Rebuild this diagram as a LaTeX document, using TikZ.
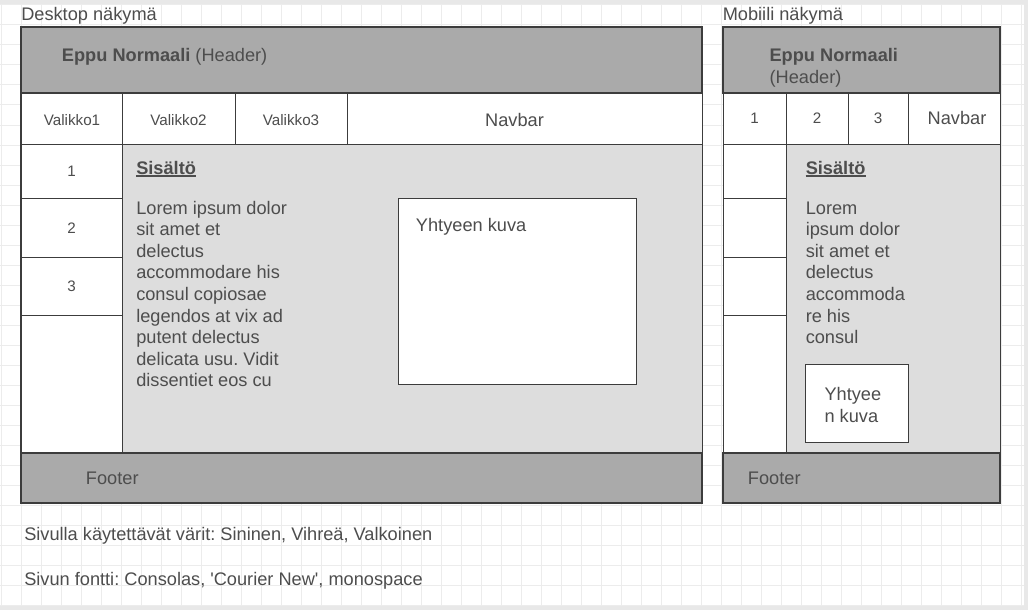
\documentclass[tikz,border=0pt]{standalone}
\usepackage{fontspec}
\setmainfont{Liberation Sans}
\definecolor{bgout}{RGB}{232,232,232}
\definecolor{gridc}{RGB}{236,236,236}
\definecolor{linec}{RGB}{60,60,60}
\definecolor{darkfill}{RGB}{170,170,170}
\definecolor{lightfill}{RGB}{221,221,221}
\definecolor{txtc}{RGB}{77,77,77}
\frenchspacing
\begin{document}
\begin{tikzpicture}[x=0.75pt,y=-0.75pt,
  big/.style={font=\fontsize{13.65}{16.2}\selectfont, text=txtc, inner sep=0pt},
  bigb/.style={font=\fontsize{13.65}{16.2}\selectfont\bfseries, text=txtc, inner sep=0pt},
  small/.style={font=\fontsize{11.4}{13.5}\selectfont, text=txtc, inner sep=0pt},
  thinbox/.style={draw=linec, line width=0.75pt},
  thickbox/.style={draw=linec, line width=1.5pt},
  uline/.style={draw=txtc, line width=1.1pt},
]
\useasboundingbox (0,0) rectangle (1028,610);
\fill[bgout] (0,0) rectangle (1028,610);
\fill[white] (0,5) rectangle (1024,605);
\foreach \i in {0,...,51} \draw[gridc, line width=0.75pt] (1.7+20*\i,5) -- (1.7+20*\i,605);
\foreach \j in {0,...,30} \draw[gridc, line width=0.75pt] (0,5+20*\j) -- (1024,5+20*\j);

% ---------- Desktop ----------
\filldraw[thinbox, fill=white] (21,27) rectangle (702,503);
\filldraw[thinbox, fill=white] (21,93) rectangle (122,144);
\filldraw[thinbox, fill=white] (122,93) rectangle (235,144);
\filldraw[thinbox, fill=white] (235,93) rectangle (347,144);
\filldraw[thinbox, fill=white] (347,93) rectangle (702,144);
\filldraw[thinbox, fill=white] (21,144) rectangle (122,198);
\filldraw[thinbox, fill=white] (21,198) rectangle (122,257);
\filldraw[thinbox, fill=white] (21,257) rectangle (122,315);
\filldraw[thinbox, fill=white] (21,315) rectangle (122,453);
\filldraw[thinbox, fill=lightfill] (122,144) rectangle (702,453);
\filldraw[thinbox, fill=white] (398,198) rectangle (636,384);
\filldraw[thickbox, fill=darkfill] (21,27) rectangle (702,93);
\filldraw[thickbox, fill=darkfill] (21,453) rectangle (702,503);
\draw[thickbox] (21,27) -- (21,503);

\node[big, anchor=base west] (dlabel) at (21,21) {Desktop näkymä};
\node[big, anchor=base west] (dhead) at (61.7,61.7) {\textbf{Eppu Normaali} (Header)};
\node[small, anchor=base] (v1) at (72,125.5) {Valikko1};
\node[small, anchor=base] (v2) at (178.5,125.5) {Valikko2};
\node[small, anchor=base] (v3) at (291,125.5) {Valikko3};
\node[big, anchor=base] (dnav) at (514.5,126.5) {Navbar};
\node[small] (dc1) at (71.5,171.5) {1};
\node[small] (dc2) at (71.5,228) {2};
\node[small] (dc3) at (71.5,286.5) {3};
\node[bigb, anchor=base west] (dsis) at (136,174.5) {Sisältö};
\draw[uline] ([yshift=-1.1pt]dsis.base west) -- ([yshift=-1.1pt]dsis.base east);
\foreach \t [count=\i from 0] in {Lorem ipsum dolor, sit amet et, delectus, accommodare his, consul copiosae, legendos at vix ad, putent delectus, delicata usu. Vidit, dissentiet eos cu}
  \node[big, anchor=base west] (dl\i) at (136,214+21.6*\i) {\t};
\node[big, anchor=base west] (dimg) at (415.7,231) {Yhtyeen kuva};
\node[big, anchor=base west] (dfoot) at (85.7,484.3) {Footer};

% ---------- Mobile ----------
\filldraw[thinbox, fill=white] (723,27) rectangle (1000,503);
\filldraw[thinbox, fill=white] (723,93) rectangle (786,144);
\filldraw[thinbox, fill=white] (786,93) rectangle (848,144);
\filldraw[thinbox, fill=white] (848,93) rectangle (908,144);
\filldraw[thinbox, fill=white] (908,93) rectangle (1000,144);
\filldraw[thinbox, fill=white] (723,144) rectangle (786,198);
\filldraw[thinbox, fill=white] (723,198) rectangle (786,257);
\filldraw[thinbox, fill=white] (723,257) rectangle (786,315);
\filldraw[thinbox, fill=white] (723,315) rectangle (786,453);
\filldraw[thinbox, fill=lightfill] (786,144) rectangle (1000,453);
\filldraw[thinbox, fill=white] (805,364) rectangle (908,442);
\filldraw[thickbox, fill=darkfill] (723,27) rectangle (1000,93);
\filldraw[thickbox, fill=darkfill] (723,453) rectangle (1000,503);

\node[big, anchor=base west] (mlabel) at (722.5,21) {Mobiili näkymä};
\node[bigb, anchor=base west] (mhead1) at (769.3,61.7) {Eppu Normaali};
\node[big, anchor=base west] (mhead2) at (769.3,83.3) {(Header)};
\node[small] (mn1) at (754.5,118.5) {1};
\node[small] (mn2) at (817,118.5) {2};
\node[small] (mn3) at (878,118.5) {3};
\node[big, anchor=base] (mnav) at (957,124.5) {Navbar};
\node[bigb, anchor=base west] (msis) at (805.5,174.5) {Sisältö};
\draw[uline] ([yshift=-1.1pt]msis.base west) -- ([yshift=-1.1pt]msis.base east);
\foreach \t [count=\i from 0] in {Lorem, ipsum dolor, sit amet et, delectus, accommoda, re his, consul}
  \node[big, anchor=base west] (ml\i) at (805.5,214+21.6*\i) {\t};
\node[big, anchor=base west] (mimg1) at (824.3,400.4) {Yhtyee};
\node[big, anchor=base west] (mimg2) at (824.3,422) {n kuva};
\node[big, anchor=base west] (mfoot) at (747.7,484.3) {Footer};

% ---------- Notes ----------
\node[big, anchor=base west] (note1) at (24,540) {Sivulla käytettävät värit: Sininen, Vihreä, Valkoinen};
\node[big, anchor=base west] (note2) at (24,585) {Sivun fontti: Consolas, \textquotesingle Courier New\textquotesingle, monospace};
\end{tikzpicture}
\end{document}
